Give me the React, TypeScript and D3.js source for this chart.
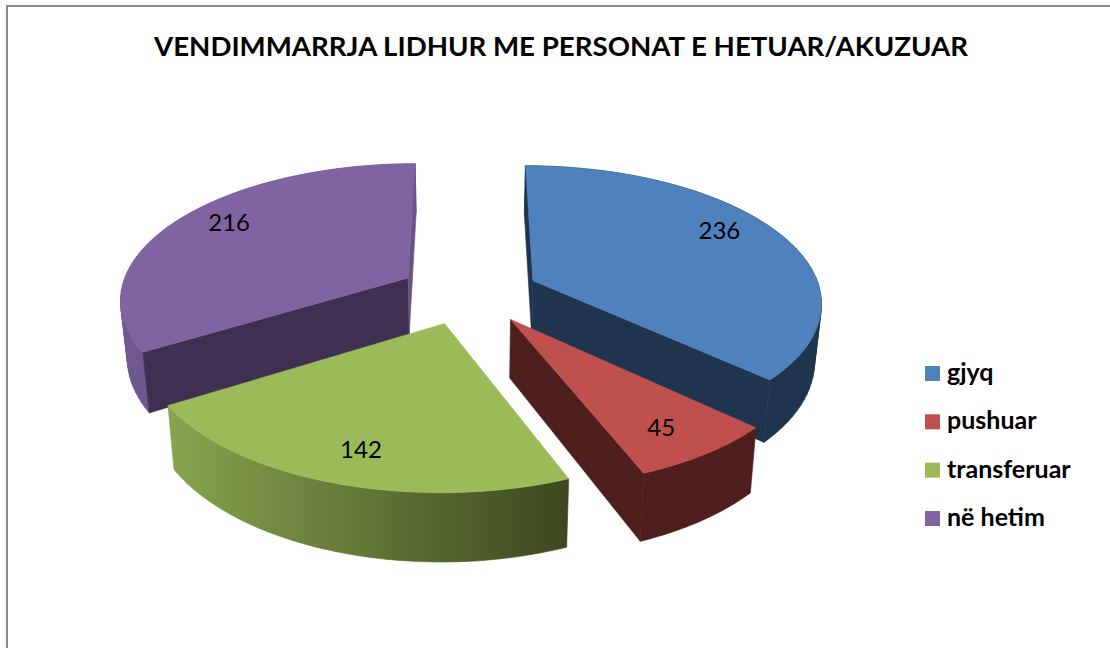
import React from "react";
import * as d3 from "d3";

const titleText = "VENDIMMARRJA LIDHUR ME PERSONAT E HETUAR/AKUZUAR";
const categories = ["gjyq", "pushuar", "transferuar", "në hetim"];
const values = [236, 45, 142, 216];
const topColors = ["#4f81bd", "#c0504d", "#9bbb59", "#8064a2"];
const radialStartColors = ["#1f344e", "#4f1f1e", "#4a5a25", "#3f2f50"];
const radialEndColors = ["#1f344e", "#4f1f1e", "#4a5a25", "#6a5288"];
const wallStart = ["#1f344e", "#4f1f1e", "#87a44e", "#6f5790"];
const wallEnd = ["#1f344e", "#4f1f1e", "#3c471f", "#664e84"];
const sliceNudgeX = [2, 1, -5, -6];
const labelNudge = [[-15, -9], [-6, 1], [6, -1], [10, -6]];

const FONT = "Lato, 'Open Sans', sans-serif";
const W = 1110, H = 648;
const cx = 471, cy = 293, Rx = 288, Ry = 135;
const persp = 0.145, depth = 57, bottomScale = 0.98, explode = 0.23, labelR = 0.82;

function project(X: number, Y: number, bottom: boolean): [number, number] {
  const s = 1 / (1 - persp * Y);
  return bottom
    ? [cx + Rx * X * s * bottomScale, cy + Ry * Y * s + depth * s]
    : [cx + Rx * X * s, cy + Ry * Y * s];
}

type P = [number, number];
const cross = (a: P, b: P, c: P) => (b[0] - a[0]) * (c[1] - b[1]) - (b[1] - a[1]) * (c[0] - b[0]);

export default function App() {
  const arcs = d3.pie<number>().sort(null).startAngle(0).endAngle(2 * Math.PI)(values);
  const line = d3.line();

  const slices = arcs.map((a, i) => {
    const mid = (a.startAngle + a.endAngle) / 2;
    const ox = explode * Math.sin(mid), oy = -explode * Math.cos(mid);
    const world = (ang: number, r: number): P => [ox + r * Math.sin(ang), oy - r * Math.cos(ang)];
    const angs = d3.range(0, 61).map((k) => d3.interpolateNumber(a.startAngle, a.endAngle)(k / 60));
    const rimTop = angs.map((g) => { const w = world(g, 1); return project(w[0], w[1], false); });
    const rimBot = angs.map((g) => { const w = world(g, 1); return project(w[0], w[1], true); });
    const apexTop = project(ox, oy, false), apexBot = project(ox, oy, true);
    const lab = world(mid, labelR);
    const l = project(lab[0], lab[1], false);
    // the wall is a union of quads, all wound the same way, so the silhouette between the two rims is filled
    const wall = d3.range(0, 60).map((k) => {
      const q: P[] = [rimTop[k], rimTop[k + 1], rimBot[k + 1], rimBot[k]];
      return line(cross(q[0], q[1], q[2]) < 0 ? q.reverse() : q)! + "Z";
    }).join("");
    return {
      i, key: categories[i], sortY: oy,
      top: line([apexTop, ...rimTop])! + "Z",
      wall,
      radA: cross(apexTop, rimTop[0], rimBot[0]) < 0 ? line([apexTop, rimTop[0], rimBot[0], apexBot])! + "Z" : null,
      radB: cross(apexTop, rimTop[60], rimBot[60]) > 0 ? line([apexTop, rimTop[60], rimBot[60], apexBot])! + "Z" : null,
      xExtent: d3.extent(rimTop, (p) => p[0]) as [number, number],
      label: [l[0] + labelNudge[i][0], l[1] + labelNudge[i][1]] as P,
    };
  });
  const ordered = [...slices].sort((p, q) => d3.ascending(p.sortY, q.sortY));
  const legendY = d3.scalePoint<string>().domain(categories).range([373.5, 518.5]);

  return (
    <svg width={W} height={H} style={{ position: "absolute", left: 0, top: 0, background: "#fff" }}>
      <defs>
        {slices.map((s) => (
          <linearGradient key={s.i} id={`wall${s.i}`} gradientUnits="userSpaceOnUse" x1={s.xExtent[0]} x2={s.xExtent[1]} y1={0} y2={0}>
            <stop offset="0" stopColor={wallStart[s.i]} />
            <stop offset="1" stopColor={wallEnd[s.i]} />
          </linearGradient>
        ))}
      </defs>
      <path d="M7 648V6H1110" fill="none" stroke="#8c8c8c" strokeWidth={2} />
      <text x={561} y={56} textAnchor="middle" fontFamily={FONT} fontWeight={700} fontSize={26} fill="#000" textLength={814} lengthAdjust="spacingAndGlyphs">{titleText}</text>
      {ordered.map((s) => (
        <g key={s.key} transform={`translate(${sliceNudgeX[s.i]},0)`}>
          <path d={s.wall} fill={`url(#wall${s.i})`} stroke={`url(#wall${s.i})`} strokeWidth={0.6} />
          {s.radA && <path d={s.radA} fill={radialStartColors[s.i]} stroke={radialStartColors[s.i]} strokeWidth={0.6} />}
          {s.radB && <path d={s.radB} fill={radialEndColors[s.i]} stroke={radialEndColors[s.i]} strokeWidth={0.6} />}
          <path d={s.top} fill={topColors[s.i]} stroke={topColors[s.i]} strokeWidth={0.4} />
        </g>
      ))}
      {slices.map((s) => (
        <text key={s.key} x={s.label[0] + sliceNudgeX[s.i]} y={s.label[1]} dy="0.35em" textAnchor="middle" fontFamily={FONT} fontSize={24} fill="#000">{values[s.i]}</text>
      ))}
      {categories.map((c, i) => (
        <g key={c}>
          <rect x={925} y={legendY(c)! - 7.5} width={15} height={15} fill={topColors[i]} />
          <text x={947} y={legendY(c)! + 7.5} fontFamily={FONT} fontWeight={700} fontSize={25} fill="#000">{c}</text>
        </g>
      ))}
    </svg>
  );
}
